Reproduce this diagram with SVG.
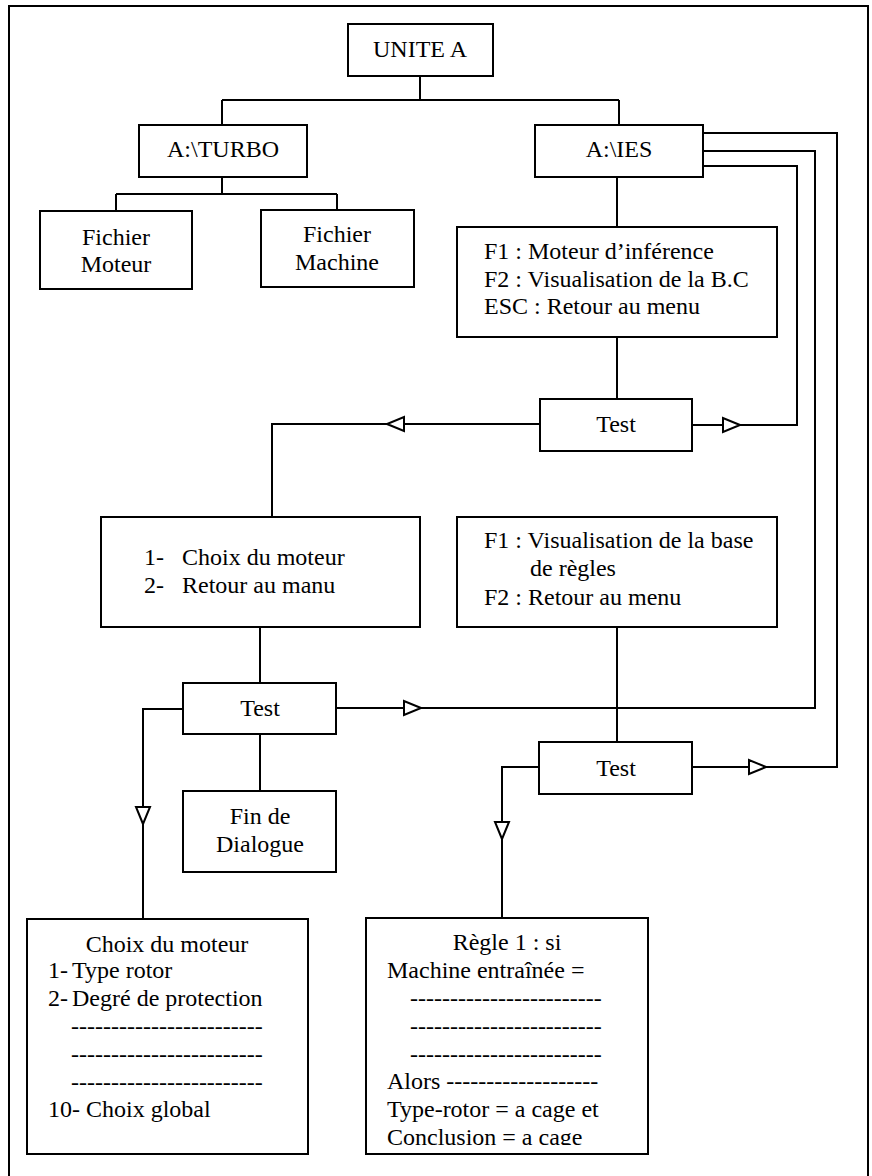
<svg xmlns="http://www.w3.org/2000/svg" xmlns:xlink="http://www.w3.org/1999/xlink" width="872" height="1176" viewBox="0 0 872 1176">
<style>
.box{fill:#fff;stroke:#000;stroke-width:2}
.ln{fill:none;stroke:#000;stroke-width:2}
.arrow{fill:#fff;stroke:#000;stroke-width:2;stroke-linejoin:miter}
.t{font-family:'Liberation Serif',serif;font-size:24px;fill:#000}
.c{text-anchor:middle}
</style>
<defs>
<path id="ah" d="M0,0 L-17,-7 L-17,7 Z"/>
<clipPath id="regleClip"><rect x="366" y="918" width="282" height="227"/></clipPath>
</defs>
<rect width="872" height="1176" fill="#fff"/>
<path class="ln" d="M9,1180 V6 H868 V1180"/>

<g id="connectors">
<path class="ln" d="M420,76 V100 M222,100 H619 M222,100 V125 M619,100 V125"/>
<path class="ln" d="M222,177 V194 M116,194 H337 M116,194 V211 M337,194 V210"/>
<path class="ln" d="M617,177 V227 M617,337 V399"/>
<path class="ln" d="M540,424 H272 V517"/>
<path class="ln" d="M692,425 H797 V166 H703"/>
<path class="ln" d="M703,151 H815 V708 H336"/>
<path class="ln" d="M703,133 H837 V767 H692"/>
<path class="ln" d="M617,627 V742"/>
<path class="ln" d="M260,627 V683 M260,734 V791"/>
<path class="ln" d="M183,709 H143 V919"/>
<path class="ln" d="M539,767 H502 V918"/>
<use xlink:href="#ah" class="arrow" transform="translate(740,425)"/>
<use xlink:href="#ah" class="arrow" transform="translate(387,424) rotate(180)"/>
<use xlink:href="#ah" class="arrow" transform="translate(421,708)"/>
<use xlink:href="#ah" class="arrow" transform="translate(766,767)"/>
<use xlink:href="#ah" class="arrow" transform="translate(143,824) rotate(90)"/>
<use xlink:href="#ah" class="arrow" transform="translate(502,839) rotate(90)"/>
</g>

<g font-family="Liberation Serif, serif" font-size="24">
<g id="unite-a">
<rect class="box" x="348" y="24" width="145" height="52"/>
<text class="t c" x="420" y="57">UNITE A</text>
</g>

<g id="a-turbo">
<rect class="box" x="139" y="125" width="168" height="52"/>
<text class="t c" x="223" y="157">A:\TURBO</text>
</g>

<g id="a-ies">
<rect class="box" x="535" y="125" width="168" height="52"/>
<text class="t c" x="619" y="157">A:\IES</text>
</g>

<g id="fichier-moteur">
<rect class="box" x="40" y="211" width="152" height="78"/>
<text class="t c" x="116" y="245">Fichier</text>
<text class="t c" x="116" y="272">Moteur</text>
</g>

<g id="fichier-machine">
<rect class="box" x="261" y="210" width="153" height="77"/>
<text class="t c" x="337" y="242">Fichier</text>
<text class="t c" x="337" y="270">Machine</text>
</g>

<g id="menu-principal">
<rect class="box" x="457" y="227" width="320" height="110"/>
<text class="t" x="484" y="259">F1 : Moteur d’inférence</text>
<text class="t" x="484" y="287">F2 : Visualisation de la B.C</text>
<text class="t" x="484" y="314">ESC : Retour au menu</text>
</g>

<g id="test-1">
<rect class="box" x="540" y="399" width="152" height="52"/>
<text class="t c" x="616" y="432">Test</text>
</g>

<g id="menu-moteur">
<rect class="box" x="101" y="517" width="319" height="110"/>
<text class="t" x="144" y="565">1-</text>
<text class="t" x="182" y="565">Choix du moteur</text>
<text class="t" x="144" y="593">2-</text>
<text class="t" x="182" y="593">Retour au manu</text>
</g>

<g id="menu-base">
<rect class="box" x="457" y="517" width="320" height="110"/>
<text class="t" x="484" y="548">F1 : Visualisation de la base</text>
<text class="t" x="530" y="576">de règles</text>
<text class="t" x="484" y="605">F2 : Retour au menu</text>
</g>

<g id="test-2">
<rect class="box" x="183" y="683" width="153" height="51"/>
<text class="t c" x="260" y="716">Test</text>
</g>

<g id="test-3">
<rect class="box" x="539" y="742" width="153" height="52"/>
<text class="t c" x="616" y="776">Test</text>
</g>

<g id="fin-dialogue">
<rect class="box" x="183" y="791" width="153" height="81"/>
<text class="t c" x="260" y="824">Fin de</text>
<text class="t c" x="260" y="852">Dialogue</text>
</g>

<g id="choix-moteur">
<rect class="box" x="27" y="919" width="281" height="235"/>
<text class="t c" x="167" y="952">Choix du moteur</text>
<text class="t" x="48" y="978">1-</text>
<text class="t" x="72" y="978">Type rotor</text>
<text class="t" x="48" y="1006">2-</text>
<text class="t" x="72" y="1006">Degré de protection</text>
<text class="t" x="71" y="1034">------------------------</text>
<text class="t" x="71" y="1062">------------------------</text>
<text class="t" x="71" y="1090">------------------------</text>
<text class="t" x="48" y="1117">10- Choix global</text>
</g>

<g id="regle-1">
<rect class="box" x="366" y="918" width="282" height="236"/>
<text class="t c" x="507" y="950">Règle 1 : si</text>
<text class="t" x="387" y="978">Machine entraînée =</text>
<text class="t" x="410" y="1006">------------------------</text>
<text class="t" x="410" y="1034">------------------------</text>
<text class="t" x="410" y="1062">------------------------</text>
<text class="t" x="387" y="1089">Alors -------------------</text>
<text class="t" x="387" y="1117">Type-rotor = a cage et</text>
<text class="t" x="387" y="1145" clip-path="url(#regleClip)">Conclusion = a cage</text>
</g>
</g>
</svg>
